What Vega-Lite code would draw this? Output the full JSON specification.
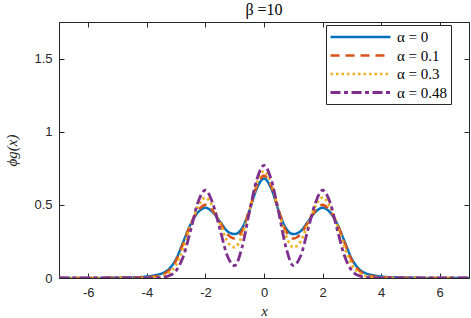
{
  "$schema": "https://vega.github.io/schema/vega-lite/v6.json",
  "width": 410,
  "height": 256,
  "autosize": "none",
  "padding": {"left": 59, "top": 22, "right": 2, "bottom": 40},
  "background": "white",
  "title": {"text": "β =10", "font": "Liberation Serif", "fontSize": 16, "fontWeight": "normal", "color": "#000000", "offset": 4},
  "config": {
    "view": {"stroke": "#262626", "strokeWidth": 1},
    "axis": {"domainColor": "#262626", "tickColor": "#262626", "labelColor": "#262626", "labelFont": "Liberation Sans", "labelFontSize": 13, "grid": false, "tickSize": -5, "titleFont": "Liberation Serif", "titleFontStyle": "italic", "titleFontWeight": "normal", "titleFontSize": 15, "titleColor": "#262626"},
    "legend": {"orient": "none", "legendX": 267, "legendY": 3, "strokeColor": "#262626", "fillColor": "#ffffff", "padding": 3, "symbolType": "M-1,0H7", "symbolSize": 225, "labelFont": "Liberation Serif", "labelFontSize": 15, "labelColor": "#000000", "rowPadding": 1.5, "labelOffset": 50}
  },
  "data": {"values": [
{"a":"α = 0","x":-7,"y":0},{"a":"α = 0","x":-6,"y":0},{"a":"α = 0","x":-5,"y":0.002},{"a":"α = 0","x":-4.5,"y":0.004},{"a":"α = 0","x":-4,"y":0.01},{"a":"α = 0","x":-3.75,"y":0.018},{"a":"α = 0","x":-3.5,"y":0.03},{"a":"α = 0","x":-3.25,"y":0.06},{"a":"α = 0","x":-3,"y":0.13},{"a":"α = 0","x":-2.75,"y":0.25},{"a":"α = 0","x":-2.5,"y":0.37},{"a":"α = 0","x":-2.25,"y":0.45},{"a":"α = 0","x":-2,"y":0.48},{"a":"α = 0","x":-1.75,"y":0.45},{"a":"α = 0","x":-1.5,"y":0.385},{"a":"α = 0","x":-1.25,"y":0.32},{"a":"α = 0","x":-1,"y":0.3},{"a":"α = 0","x":-0.75,"y":0.34},{"a":"α = 0","x":-0.5,"y":0.46},{"a":"α = 0","x":-0.25,"y":0.61},{"a":"α = 0","x":0,"y":0.68},{"a":"α = 0","x":0.25,"y":0.61},{"a":"α = 0","x":0.5,"y":0.46},{"a":"α = 0","x":0.75,"y":0.34},{"a":"α = 0","x":1,"y":0.3},{"a":"α = 0","x":1.25,"y":0.32},{"a":"α = 0","x":1.5,"y":0.385},{"a":"α = 0","x":1.75,"y":0.45},{"a":"α = 0","x":2,"y":0.48},{"a":"α = 0","x":2.25,"y":0.45},{"a":"α = 0","x":2.5,"y":0.37},{"a":"α = 0","x":2.75,"y":0.25},{"a":"α = 0","x":3,"y":0.13},{"a":"α = 0","x":3.25,"y":0.06},{"a":"α = 0","x":3.5,"y":0.03},{"a":"α = 0","x":3.75,"y":0.018},{"a":"α = 0","x":4,"y":0.01},{"a":"α = 0","x":4.5,"y":0.004},{"a":"α = 0","x":5,"y":0.002},{"a":"α = 0","x":6,"y":0},{"a":"α = 0","x":7,"y":0},
{"a":"α = 0.1","x":-7,"y":0},{"a":"α = 0.1","x":-6,"y":0},{"a":"α = 0.1","x":-5,"y":0.001},{"a":"α = 0.1","x":-4.5,"y":0.002},{"a":"α = 0.1","x":-4,"y":0.005},{"a":"α = 0.1","x":-3.75,"y":0.01},{"a":"α = 0.1","x":-3.5,"y":0.022},{"a":"α = 0.1","x":-3.25,"y":0.05},{"a":"α = 0.1","x":-3,"y":0.12},{"a":"α = 0.1","x":-2.75,"y":0.24},{"a":"α = 0.1","x":-2.5,"y":0.37},{"a":"α = 0.1","x":-2.25,"y":0.46},{"a":"α = 0.1","x":-2,"y":0.5},{"a":"α = 0.1","x":-1.75,"y":0.46},{"a":"α = 0.1","x":-1.5,"y":0.38},{"a":"α = 0.1","x":-1.25,"y":0.3},{"a":"α = 0.1","x":-1,"y":0.27},{"a":"α = 0.1","x":-0.75,"y":0.32},{"a":"α = 0.1","x":-0.5,"y":0.465},{"a":"α = 0.1","x":-0.25,"y":0.625},{"a":"α = 0.1","x":0,"y":0.7},{"a":"α = 0.1","x":0.25,"y":0.625},{"a":"α = 0.1","x":0.5,"y":0.465},{"a":"α = 0.1","x":0.75,"y":0.32},{"a":"α = 0.1","x":1,"y":0.27},{"a":"α = 0.1","x":1.25,"y":0.3},{"a":"α = 0.1","x":1.5,"y":0.38},{"a":"α = 0.1","x":1.75,"y":0.46},{"a":"α = 0.1","x":2,"y":0.5},{"a":"α = 0.1","x":2.25,"y":0.46},{"a":"α = 0.1","x":2.5,"y":0.37},{"a":"α = 0.1","x":2.75,"y":0.24},{"a":"α = 0.1","x":3,"y":0.12},{"a":"α = 0.1","x":3.25,"y":0.05},{"a":"α = 0.1","x":3.5,"y":0.022},{"a":"α = 0.1","x":3.75,"y":0.01},{"a":"α = 0.1","x":4,"y":0.005},{"a":"α = 0.1","x":4.5,"y":0.002},{"a":"α = 0.1","x":5,"y":0.001},{"a":"α = 0.1","x":6,"y":0},{"a":"α = 0.1","x":7,"y":0},
{"a":"α = 0.3","x":-7,"y":0},{"a":"α = 0.3","x":-6,"y":0},{"a":"α = 0.3","x":-5,"y":0},{"a":"α = 0.3","x":-4.5,"y":0},{"a":"α = 0.3","x":-4,"y":0.002},{"a":"α = 0.3","x":-3.75,"y":0.005},{"a":"α = 0.3","x":-3.5,"y":0.012},{"a":"α = 0.3","x":-3.25,"y":0.035},{"a":"α = 0.3","x":-3,"y":0.09},{"a":"α = 0.3","x":-2.75,"y":0.21},{"a":"α = 0.3","x":-2.5,"y":0.36},{"a":"α = 0.3","x":-2.25,"y":0.49},{"a":"α = 0.3","x":-2,"y":0.55},{"a":"α = 0.3","x":-1.75,"y":0.49},{"a":"α = 0.3","x":-1.5,"y":0.37},{"a":"α = 0.3","x":-1.25,"y":0.25},{"a":"α = 0.3","x":-1,"y":0.21},{"a":"α = 0.3","x":-0.75,"y":0.29},{"a":"α = 0.3","x":-0.5,"y":0.46},{"a":"α = 0.3","x":-0.25,"y":0.645},{"a":"α = 0.3","x":0,"y":0.73},{"a":"α = 0.3","x":0.25,"y":0.645},{"a":"α = 0.3","x":0.5,"y":0.46},{"a":"α = 0.3","x":0.75,"y":0.29},{"a":"α = 0.3","x":1,"y":0.21},{"a":"α = 0.3","x":1.25,"y":0.25},{"a":"α = 0.3","x":1.5,"y":0.37},{"a":"α = 0.3","x":1.75,"y":0.49},{"a":"α = 0.3","x":2,"y":0.55},{"a":"α = 0.3","x":2.25,"y":0.49},{"a":"α = 0.3","x":2.5,"y":0.36},{"a":"α = 0.3","x":2.75,"y":0.21},{"a":"α = 0.3","x":3,"y":0.09},{"a":"α = 0.3","x":3.25,"y":0.035},{"a":"α = 0.3","x":3.5,"y":0.012},{"a":"α = 0.3","x":3.75,"y":0.005},{"a":"α = 0.3","x":4,"y":0.002},{"a":"α = 0.3","x":4.5,"y":0},{"a":"α = 0.3","x":5,"y":0},{"a":"α = 0.3","x":6,"y":0},{"a":"α = 0.3","x":7,"y":0},
{"a":"α = 0.48","x":-7,"y":0},{"a":"α = 0.48","x":-6,"y":0},{"a":"α = 0.48","x":-5,"y":0},{"a":"α = 0.48","x":-4.5,"y":0},{"a":"α = 0.48","x":-4,"y":0},{"a":"α = 0.48","x":-3.75,"y":0.001},{"a":"α = 0.48","x":-3.5,"y":0.004},{"a":"α = 0.48","x":-3.25,"y":0.015},{"a":"α = 0.48","x":-3,"y":0.05},{"a":"α = 0.48","x":-2.75,"y":0.15},{"a":"α = 0.48","x":-2.5,"y":0.33},{"a":"α = 0.48","x":-2.25,"y":0.52},{"a":"α = 0.48","x":-2,"y":0.6},{"a":"α = 0.48","x":-1.75,"y":0.51},{"a":"α = 0.48","x":-1.5,"y":0.33},{"a":"α = 0.48","x":-1.25,"y":0.15},{"a":"α = 0.48","x":-1,"y":0.085},{"a":"α = 0.48","x":-0.75,"y":0.21},{"a":"α = 0.48","x":-0.5,"y":0.45},{"a":"α = 0.48","x":-0.25,"y":0.67},{"a":"α = 0.48","x":0,"y":0.77},{"a":"α = 0.48","x":0.25,"y":0.67},{"a":"α = 0.48","x":0.5,"y":0.45},{"a":"α = 0.48","x":0.75,"y":0.21},{"a":"α = 0.48","x":1,"y":0.085},{"a":"α = 0.48","x":1.25,"y":0.15},{"a":"α = 0.48","x":1.5,"y":0.33},{"a":"α = 0.48","x":1.75,"y":0.51},{"a":"α = 0.48","x":2,"y":0.6},{"a":"α = 0.48","x":2.25,"y":0.52},{"a":"α = 0.48","x":2.5,"y":0.33},{"a":"α = 0.48","x":2.75,"y":0.15},{"a":"α = 0.48","x":3,"y":0.05},{"a":"α = 0.48","x":3.25,"y":0.015},{"a":"α = 0.48","x":3.5,"y":0.004},{"a":"α = 0.48","x":3.75,"y":0.001},{"a":"α = 0.48","x":4,"y":0},{"a":"α = 0.48","x":4.5,"y":0},{"a":"α = 0.48","x":5,"y":0},{"a":"α = 0.48","x":6,"y":0},{"a":"α = 0.48","x":7,"y":0}
  ]},
  "layer": [
    {
      "mark": {"type": "line", "interpolate": "monotone", "clip": true, "strokeCap": "butt"},
      "encoding": {
        "x": {"field": "x", "type": "quantitative", "scale": {"domain": [-7, 7], "nice": false, "zero": false},
              "axis": {"values": [-6, -4, -2, 0, 2, 4, 6], "labelExpr": "datum.value + ''", "labelPadding": 13, "title": "x", "titlePadding": 4}},
        "y": {"field": "y", "type": "quantitative", "scale": {"domain": [0, 1.75], "nice": false},
              "axis": {"values": [0, 0.5, 1, 1.5], "labelExpr": "datum.value + ''", "labelPadding": 12, "title": "ϕg(x)", "titlePadding": 14}},
        "color": {"field": "a", "type": "nominal", "title": null,
                  "scale": {"domain": ["α = 0", "α = 0.1", "α = 0.3", "α = 0.48"], "range": ["#0072BD", "#D95319", "#EDB120", "#7E2F8E"]}},
        "strokeDash": {"field": "a", "type": "nominal", "title": null,
                  "scale": {"domain": ["α = 0", "α = 0.1", "α = 0.3", "α = 0.48"], "range": [[1, 0], [9, 6], [2.5, 3], [10, 3.5, 4, 3.5]]}},
        "strokeWidth": {"field": "a", "type": "nominal", "title": null,
                  "scale": {"domain": ["α = 0", "α = 0.1", "α = 0.3", "α = 0.48"], "range": [2.5, 2.8, 2.8, 3.8]}}
      }
    },
    {
      "mark": {"type": "line", "opacity": 0},
      "encoding": {
        "x": {"field": "x", "type": "quantitative", "axis": {"orient": "top", "values": [-6, -4, -2, 0, 2, 4, 6], "labels": false, "title": null}},
        "y": {"field": "y", "type": "quantitative", "axis": {"orient": "right", "values": [0, 0.5, 1, 1.5], "labels": false, "title": null}}
      }
    }
  ],
  "resolve": {"axis": {"x": "independent", "y": "independent"}}
}
